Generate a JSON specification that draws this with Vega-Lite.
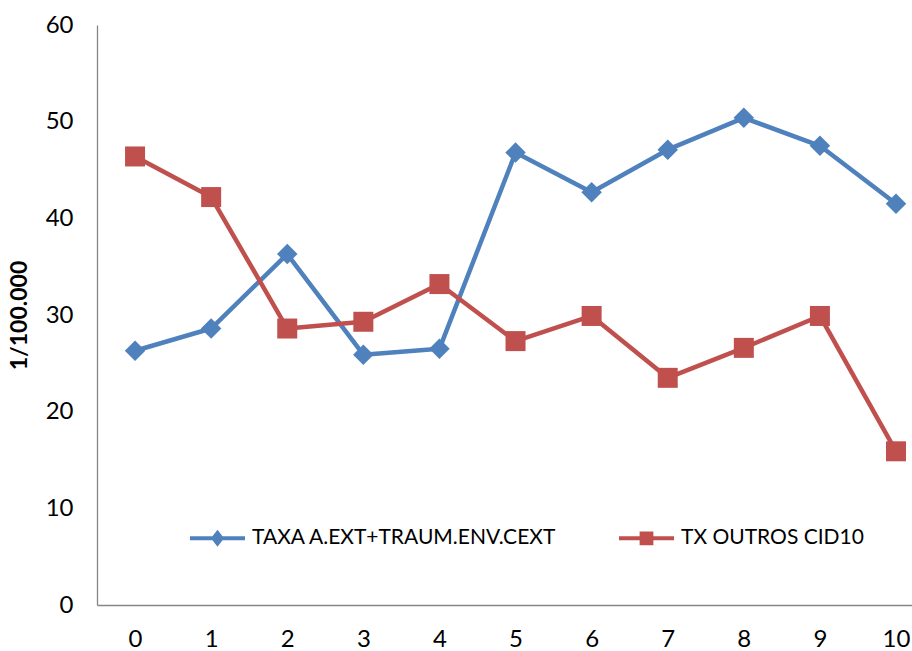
{
  "$schema": "https://vega.github.io/schema/vega-lite/v6.json",
  "width": 815,
  "height": 580,
  "autosize": {"type": "none"},
  "padding": {"left": 97, "top": 25, "right": 0, "bottom": 46},
  "background": "white",
  "config": {
    "view": {"stroke": null},
    "font": "Lato",
    "axis": {"grid": false, "ticks": false, "tickSize": 0, "domainColor": "#868686", "domainWidth": 1.3, "labelColor": "#000000", "labelFont": "Lato", "labelFontSize": 24}
  },
  "data": {
    "values": [
      {"x": 0, "series": "TAXA A.EXT+TRAUM.ENV.CEXT", "value": 26.3},
      {"x": 1, "series": "TAXA A.EXT+TRAUM.ENV.CEXT", "value": 28.6},
      {"x": 2, "series": "TAXA A.EXT+TRAUM.ENV.CEXT", "value": 36.3},
      {"x": 3, "series": "TAXA A.EXT+TRAUM.ENV.CEXT", "value": 25.9},
      {"x": 4, "series": "TAXA A.EXT+TRAUM.ENV.CEXT", "value": 26.5},
      {"x": 5, "series": "TAXA A.EXT+TRAUM.ENV.CEXT", "value": 46.8},
      {"x": 6, "series": "TAXA A.EXT+TRAUM.ENV.CEXT", "value": 42.7},
      {"x": 7, "series": "TAXA A.EXT+TRAUM.ENV.CEXT", "value": 47.1},
      {"x": 8, "series": "TAXA A.EXT+TRAUM.ENV.CEXT", "value": 50.4},
      {"x": 9, "series": "TAXA A.EXT+TRAUM.ENV.CEXT", "value": 47.5},
      {"x": 10, "series": "TAXA A.EXT+TRAUM.ENV.CEXT", "value": 41.5},
      {"x": 0, "series": "TX OUTROS CID10", "value": 46.4},
      {"x": 1, "series": "TX OUTROS CID10", "value": 42.2},
      {"x": 2, "series": "TX OUTROS CID10", "value": 28.6},
      {"x": 3, "series": "TX OUTROS CID10", "value": 29.3},
      {"x": 4, "series": "TX OUTROS CID10", "value": 33.2},
      {"x": 5, "series": "TX OUTROS CID10", "value": 27.3},
      {"x": 6, "series": "TX OUTROS CID10", "value": 29.9},
      {"x": 7, "series": "TX OUTROS CID10", "value": 23.5},
      {"x": 8, "series": "TX OUTROS CID10", "value": 26.6},
      {"x": 9, "series": "TX OUTROS CID10", "value": 29.9},
      {"x": 10, "series": "TX OUTROS CID10", "value": 15.9}
    ]
  },
  "encoding": {
    "x": {
      "field": "x", "type": "quantitative",
      "scale": {"domain": [-0.5, 10.21], "nice": false, "zero": false},
      "axis": {"title": null, "values": [0,1,2,3,4,5,6,7,8,9,10], "labelPadding": 22, "labelFlush": false, "format": "d"}
    },
    "y": {
      "field": "value", "type": "quantitative",
      "scale": {"domain": [0, 60], "nice": false},
      "axis": {"title": "1/100.000", "values": [0,10,20,30,40,50,60], "labelPadding": 24, "titleFont": "Lato", "titleFontSize": 23, "titleFontWeight": "bold", "titleColor": "#000000", "titlePadding": 14}
    },
    "color": {
      "field": "series", "type": "nominal",
      "scale": {"domain": ["TAXA A.EXT+TRAUM.ENV.CEXT", "TX OUTROS CID10"], "range": ["#4F81BD", "#C0504D"]},
      "legend": {
        "title": null,
        "orient": "none",
        "direction": "horizontal",
        "legendX": 93,
        "legendY": 485.5,
        "symbolSize": 3025,
        "symbolType": "M-1,-0.073H1V0.073H-1Z",
        "symbolStrokeWidth": 0,
        "labelFont": "Lato",
        "labelFontSize": 21,
        "labelColor": "#000000",
        "labelOffset": 7,
        "labelLimit": 0,
        "columnPadding": 62,
        "padding": 0,
        "encode": {
          "symbols": {
            "update": {
              "shape": {"signal": "datum.value === 'TX OUTROS CID10' ? 'M-1,-0.073H1V0.073H-1Z M-0.25,-0.25H0.25V0.25H-0.25Z' : 'M-1,-0.073H1V0.073H-1Z M0,-0.31L0.24,0L0,0.31L-0.24,0Z'"},
              "fill": {"signal": "datum.value === 'TX OUTROS CID10' ? '#C0504D' : '#4F81BD'"},
              "stroke": {"value": "transparent"},
              "opacity": {"value": 1},
              "fillOpacity": {"value": 1}
            }
          }
        }
      }
    }
  },
  "layer": [
    {
      "mark": {"type": "line", "strokeWidth": 4.5, "strokeJoin": "round"}
    },
    {
      "transform": [{"filter": "datum.series === 'TAXA A.EXT+TRAUM.ENV.CEXT'"}],
      "mark": {"type": "point", "filled": true, "opacity": 1, "shape": "diamond", "size": 420}
    },
    {
      "transform": [{"filter": "datum.series === 'TX OUTROS CID10'"}],
      "mark": {"type": "point", "filled": true, "opacity": 1, "shape": "square", "size": 400}
    }
  ]
}
